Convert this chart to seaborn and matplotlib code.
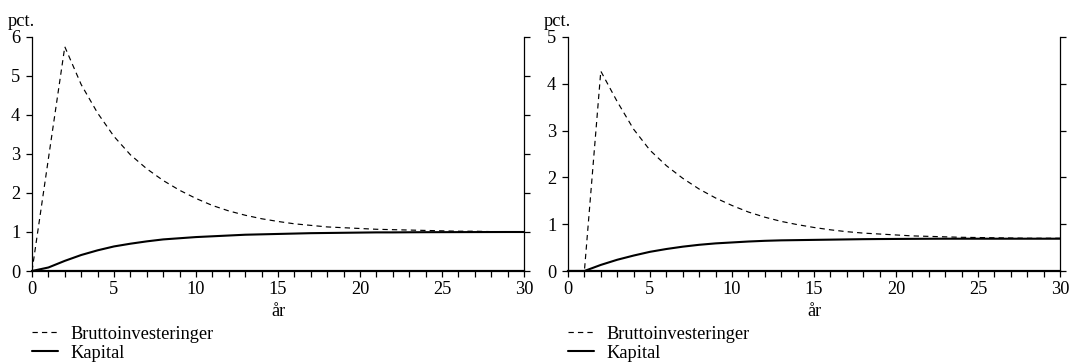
import numpy as np
import pandas as pd
import matplotlib
matplotlib.use("Agg")
import matplotlib.pyplot as plt
from matplotlib.ticker import MultipleLocator
from matplotlib.lines import Line2D
import seaborn as sns

# Years after the shock
years = list(range(0, 31))

# Left panel: responses in pct.
left_brutto = [0.0, 2.88, 5.75, 4.78, 4.05, 3.45, 2.98, 2.62, 2.32, 2.07, 1.86,
               1.68, 1.54, 1.43, 1.34, 1.27, 1.21, 1.17, 1.13, 1.11, 1.09,
               1.07, 1.06, 1.05, 1.04, 1.03, 1.02, 1.02, 1.01, 1.01, 1.01]
left_kapital = [0.0, 0.09, 0.26, 0.41, 0.53, 0.63, 0.70, 0.76, 0.81, 0.84, 0.87,
                0.89, 0.91, 0.93, 0.94, 0.95, 0.96, 0.97, 0.975, 0.98, 0.985,
                0.99, 0.99, 0.993, 0.995, 0.996, 0.997, 0.998, 0.999, 1.0, 1.0]

# Right panel: responses in pct.
right_brutto = [0.0, 0.0, 4.27, 3.62, 3.03, 2.58, 2.25, 1.98, 1.75, 1.56, 1.40,
                1.26, 1.15, 1.06, 0.99, 0.93, 0.88, 0.84, 0.81, 0.79, 0.77,
                0.75, 0.74, 0.73, 0.72, 0.715, 0.71, 0.705, 0.70, 0.70, 0.70]
right_kapital = [0.0, 0.0, 0.13, 0.24, 0.33, 0.41, 0.47, 0.52, 0.56, 0.59, 0.61,
                 0.63, 0.645, 0.655, 0.66, 0.665, 0.67, 0.675, 0.68, 0.683, 0.685,
                 0.687, 0.689, 0.69, 0.69, 0.69, 0.69, 0.69, 0.69, 0.69, 0.69]

series_names = ["Bruttoinvesteringer", "Kapital"]
left_ymax = 6
right_ymax = 5
x_label = "år"
y_unit = "pct."

sns.set_theme(style="ticks")
plt.rcParams["font.family"] = ["Liberation Serif", "DejaVu Serif"]
plt.rcParams["text.color"] = "black"
plt.rcParams["axes.labelcolor"] = "black"
plt.rcParams["xtick.color"] = "black"
plt.rcParams["ytick.color"] = "black"

FS = 13.2
DASH = (4.5, 3.5)

fig = plt.figure(figsize=(10.70, 3.62), dpi=100)
ax_l = fig.add_axes([32 / 1070, 91 / 362, 492 / 1070, 234 / 362])
ax_r = fig.add_axes([568 / 1070, 91 / 362, 492 / 1070, 234 / 362])


def draw_panel(ax, brutto, kapital, ymax):
    df = pd.DataFrame({
        "år": years * 2,
        "pct": brutto + kapital,
        "serie": [series_names[0]] * len(years) + [series_names[1]] * len(years),
    })
    sns.lineplot(data=df[df["serie"] == series_names[0]], x="år", y="pct",
                 ax=ax, color="black", lw=0.85, dashes=False,
                 linestyle=(0, DASH), legend=False)
    sns.lineplot(data=df[df["serie"] == series_names[1]], x="år", y="pct",
                 ax=ax, color="black", lw=1.5, legend=False)
    ax.set_xlim(0, 30)
    ax.set_ylim(0, ymax)
    ax.xaxis.set_major_locator(MultipleLocator(5))
    ax.xaxis.set_minor_locator(MultipleLocator(1))
    ax.yaxis.set_major_locator(MultipleLocator(1))
    ax.tick_params(axis="both", which="both", direction="out", length=4,
                   width=0.9, labelsize=FS)
    ax.tick_params(axis="y", right=True, labelright=False, pad=4.5)
    ax.tick_params(axis="x", pad=3.0)
    for side in ["left", "right"]:
        ax.spines[side].set_visible(True)
        ax.spines[side].set_linewidth(0.9)
        ax.spines[side].set_color("black")
    ax.spines["bottom"].set_linewidth(1.6)
    ax.spines["bottom"].set_color("black")
    ax.spines["top"].set_visible(False)
    ax.set_xlabel(x_label, fontsize=FS, labelpad=3.5)
    ax.set_ylabel("")
    ax.grid(False)
    ax.annotate(y_unit, xy=(0, 1), xycoords="axes fraction",
                xytext=(2.2, 7.6), textcoords="offset points",
                ha="right", va="baseline", fontsize=FS)
    handles = [Line2D([], [], color="black", lw=0.85, linestyle=(0, DASH)),
               Line2D([], [], color="black", lw=1.5)]
    ax.legend(handles, series_names, loc="upper left",
              bbox_to_anchor=(0.0, -0.233), frameon=False, fontsize=FS,
              handlelength=1.4, handletextpad=0.72, labelspacing=0.11,
              borderaxespad=0, borderpad=0)


draw_panel(ax_l, left_brutto, left_kapital, left_ymax)
draw_panel(ax_r, right_brutto, right_kapital, right_ymax)

fig.savefig("out.png", dpi=100, facecolor="white")
